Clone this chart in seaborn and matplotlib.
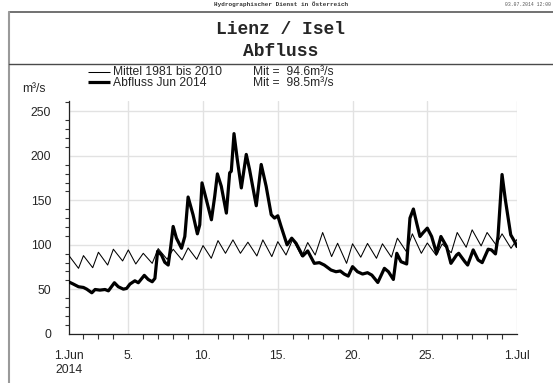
import matplotlib
matplotlib.use("Agg")
import matplotlib.pyplot as plt
from matplotlib.lines import Line2D
from matplotlib.ticker import MultipleLocator
import pandas as pd
import seaborn as sns

# Time axis in days since 1 Jun 2014 00:00
mittel_days = [0.0, 0.67, 1.0, 1.62, 2.0, 2.62, 3.0, 3.62, 4.0, 4.5, 5.0, 5.6,
               6.0, 6.6, 7.0, 7.6, 8.0, 8.58, 9.0, 9.55, 10.0, 10.5, 11.0, 11.5,
               12.0, 12.6, 13.0, 13.6, 14.0, 14.55, 15.0, 15.6, 16.0, 16.5, 17.0,
               17.6, 18.0, 18.6, 19.0, 19.55, 20.0, 20.6, 21.0, 21.6, 22.0, 22.6,
               23.0, 23.6, 24.0, 24.6, 25.0, 25.6, 26.0, 26.6, 27.0, 27.6, 28.0,
               28.6, 29.0, 29.6, 30.0]
mittel_q = [88.5, 73.5, 87.8, 74.2, 91.6, 77.2, 95.0, 81.8, 94.2, 78.4, 90.4, 79.1,
            95.7, 83.6, 95.0, 82.9, 96.5, 83.6, 99.1, 84.8, 104.7, 90.4, 105.5, 90.4,
            102.9, 87.4, 105.5, 86.7, 103.5, 88.5, 106.3, 86.7, 102.5, 88.5, 113.8,
            86.7, 101.7, 79.1, 101.1, 86.0, 101.5, 84.8, 101.1, 86.0, 107.4, 92.3,
            112.3, 90.4, 102.0, 88.0, 101.0, 91.0, 113.8, 97.2, 116.8, 98.7, 113.8,
            99.8, 112.3, 96.0, 106.0]

abfluss_days = [0.0, 0.3, 0.67, 1.0, 1.22, 1.56, 1.78, 2.1, 2.44, 2.67, 3.07, 3.33,
                3.67, 3.89, 4.11, 4.44, 4.67, 5.07, 5.33, 5.6, 5.78, 5.96, 6.22, 6.44,
                6.67, 6.84, 7.0, 7.22, 7.56, 7.78, 8.0, 8.33, 8.62, 8.78, 8.93, 9.22,
                9.56, 9.78, 9.96, 10.22, 10.56, 10.78, 10.89, 11.07, 11.29, 11.56,
                11.89, 12.11, 12.56, 12.89, 13.22, 13.56, 13.78, 14.0, 14.22, 14.62,
                14.93, 15.22, 15.67, 16.0, 16.44, 16.78, 17.11, 17.56, 17.89, 18.18,
                18.44, 18.71, 19.0, 19.33, 19.67, 20.0, 20.29, 20.69, 21.13, 21.4,
                21.73, 21.96, 22.24, 22.62, 22.84, 23.07, 23.29, 23.51, 23.73, 24.0,
                24.29, 24.62, 24.91, 25.29, 25.58, 25.96, 26.1, 26.51, 26.7, 27.07,
                27.4, 27.67, 28.07, 28.29, 28.56, 28.73, 29.0, 29.22, 29.58, 29.84,
                30.0]
abfluss_q = [58.4, 56.0, 52.8, 52.0, 50.1, 46.0, 49.7, 49.0, 49.7, 48.2, 57.3, 52.8,
             50.1, 50.9, 55.8, 59.5, 57.3, 65.6, 61.0, 58.4, 62.2, 92.7, 88.5, 80.3,
             77.2, 98.0, 120.6, 107.4, 96.1, 109.3, 153.7, 133.8, 112.3, 122.5, 169.6,
             150.7, 128.1, 154.5, 179.7, 165.8, 135.6, 180.9, 182.7, 225.0, 195.9,
             163.9, 201.6, 184.6, 143.9, 190.3, 165.8, 133.8, 130.0, 132.6, 120.6,
             99.9, 107.4, 101.7, 87.4, 93.1, 79.1, 79.9, 77.2, 71.6, 69.7, 70.5,
             67.1, 64.8, 75.4, 69.7, 67.1, 68.6, 65.9, 57.6, 73.5, 69.7, 61.0, 90.4,
             81.0, 78.4, 130.0, 140.2, 124.3, 109.3, 113.8, 118.7, 109.3, 90.4, 109.3,
             98.0, 79.1, 88.5, 90.4, 81.0, 77.2, 94.2, 82.9, 79.9, 95.0, 94.2, 89.7,
             109.3, 179.0, 150.7, 111.2, 103.6, 98.0]

tick_days = [0, 4, 9, 14, 19, 24, 30]
tick_labels = ["1.Jun\n2014", "5.", "10.", "15.", "20.", "25.", "1.Jul"]
y_ticks = [0, 50, 100, 150, 200, 250]

series_labels = ["Mittel 1981 bis 2010", "Abfluss Jun 2014"]
series_means = ["Mit =  94.6m³/s", "Mit =  98.5m³/s"]
series_widths = [0.75, 2.3]

sns.set_style("white")
plt.rcParams["font.family"] = ["Liberation Sans", "DejaVu Sans"]

W, H = 553, 383
fig = plt.figure(figsize=(W / 100, H / 100), dpi=100)


def fx(px):
    return px / W


def fy(py):
    return 1 - py / H


# page frame and title block
fig.add_artist(Line2D([fx(8.5), 1], [fy(12.3), fy(12.3)], color="#4a4a4a", lw=1.1))
fig.add_artist(Line2D([fx(8.5), fx(8.5)], [fy(12.3), 0], color="#9a9a9a", lw=1.5))
fig.add_artist(Line2D([fx(8.5), 1], [fy(64), fy(64)], color="#4a4a4a", lw=1.0))

fig.text(fx(281), fy(4.5), "Hydrographischer Dienst in Österreich",
         family="Liberation Mono", fontsize=4.3, weight="bold", color="#333333",
         ha="center", va="center")
fig.text(fx(551), fy(4.5), "03.07.2014 12:00", family="Liberation Mono",
         fontsize=3.4, color="#555555", ha="right", va="center")
fig.text(fx(281), fy(30), "Lienz / Isel", family="Liberation Mono", weight="bold",
         fontsize=13, ha="center", va="center")
fig.text(fx(281), fy(51), "Abfluss", family="Liberation Mono", weight="bold",
         fontsize=13, ha="center", va="center")

# legend block
legend_y = [72.3, 82.0]
text_y = [72.0, 83.0]
for lab, mean, lw, ly, ty in zip(series_labels, series_means, series_widths,
                                 legend_y, text_y):
    fig.add_artist(Line2D([fx(88), fx(110)], [fy(ly), fy(ly)], color="black",
                          lw=lw, solid_capstyle="butt"))
    fig.text(fx(113), fy(ty), lab, fontsize=8.7, ha="left", va="center")
    fig.text(fx(253), fy(ty), mean, fontsize=8.7, ha="left", va="center")

fig.text(fx(34), fy(89), "m³/s", fontsize=8.7, ha="center", va="center")

# plot area
ax = fig.add_axes([fx(68.5), fy(333.7), fx(517) - fx(68.5), fy(100.7) - fy(333.7)])

df_m = pd.DataFrame({"Tag": mittel_days, "Q": mittel_q})
df_a = pd.DataFrame({"Tag": abfluss_days, "Q": abfluss_q})
sns.lineplot(data=df_m, x="Tag", y="Q", ax=ax, color="black",
             linewidth=series_widths[0], zorder=3)
sns.lineplot(data=df_a, x="Tag", y="Q", ax=ax, color="black",
             linewidth=series_widths[1], zorder=4)

ax.set_xlim(0, 30)
ax.set_ylim(0, 262)
ax.set_xticks(tick_days)
ax.set_xticklabels(tick_labels)
ax.xaxis.set_minor_locator(MultipleLocator(1))
ax.set_yticks(y_ticks)
ax.yaxis.set_minor_locator(MultipleLocator(10))
ax.set_xlabel("")
ax.set_ylabel("")

ax.grid(True, which="major", color="#e2e2e2", lw=1.0)
ax.set_axisbelow(True)
for side in ("top", "right"):
    ax.spines[side].set_visible(False)
for side in ("left", "bottom"):
    ax.spines[side].set_color("#222222")
    ax.spines[side].set_linewidth(0.9)

ax.tick_params(axis="x", which="major", direction="out", length=10, width=0.9,
               color="#333333", pad=2, labelsize=8.7)
ax.tick_params(axis="x", which="minor", direction="out", length=3.5, width=0.8,
               color="#333333", bottom=True)
ax.tick_params(axis="y", which="major", direction="out", length=6.5, width=0.9,
               color="#333333", pad=6, labelsize=8.7)
ax.tick_params(axis="y", which="minor", direction="out", length=3, width=0.8,
               color="#333333", left=True)

fig.savefig("out.png", dpi=100)
